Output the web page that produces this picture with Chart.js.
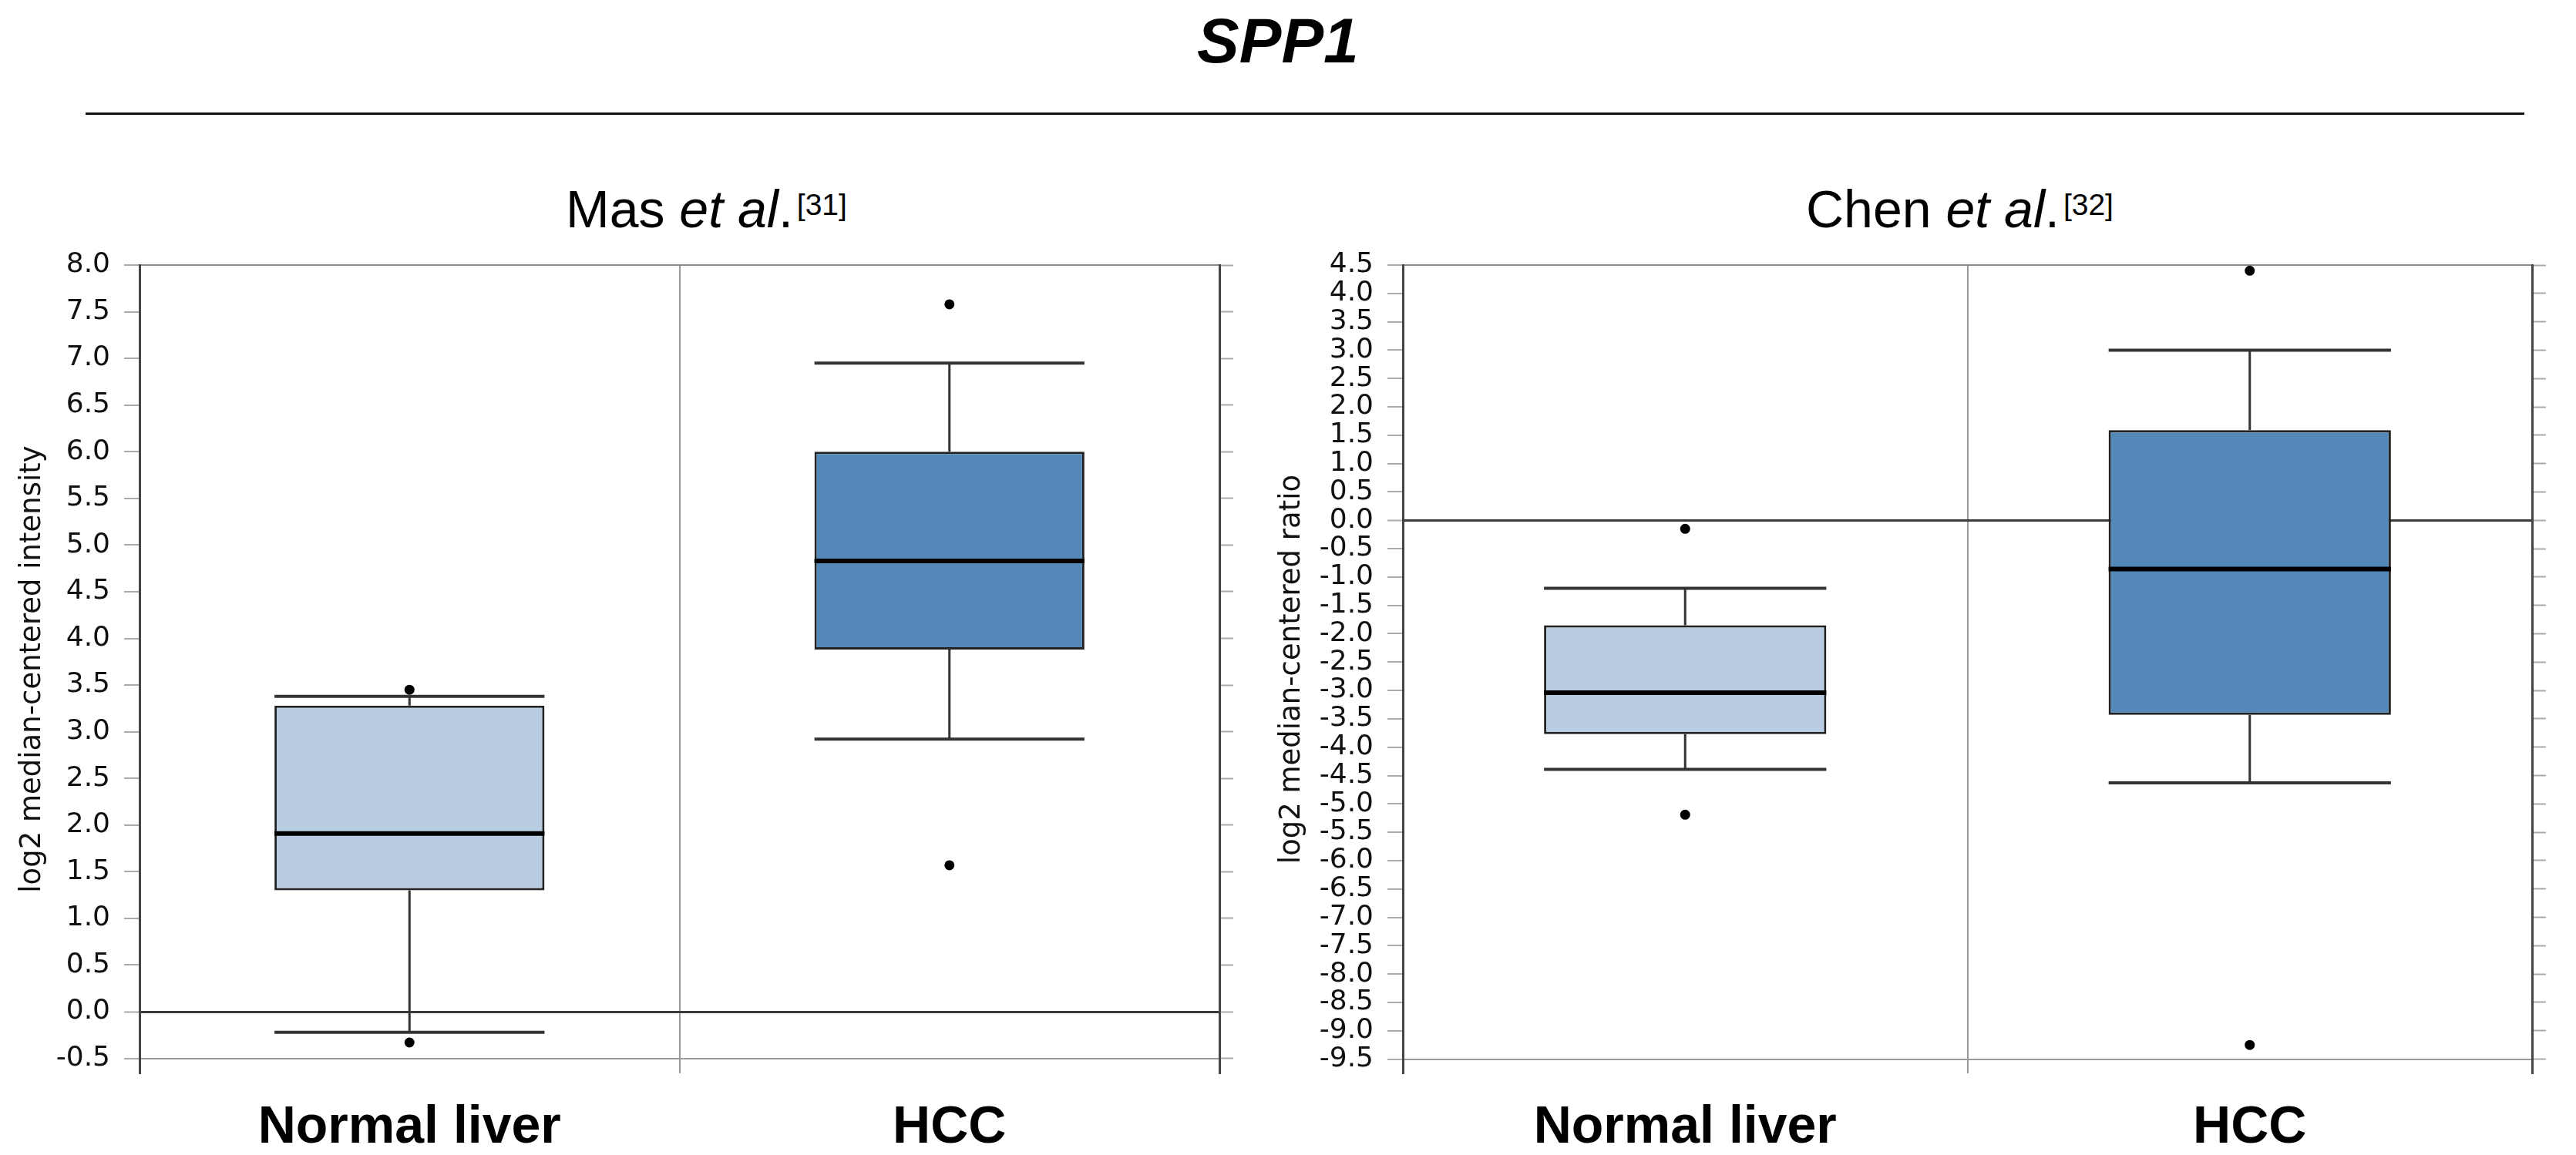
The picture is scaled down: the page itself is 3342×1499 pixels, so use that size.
<!DOCTYPE html>
<html>
<head>
<meta charset="utf-8">
<title>SPP1</title>
<script src="https://cdn.jsdelivr.net/npm/chart.js@4.4.1/dist/chart.umd.min.js"></script>
<style>
  html, body { margin: 0; padding: 0; background: #fff; }
  #page { position: relative; width: 3342px; height: 1499px; overflow: hidden; background: #fff; }
  .gene { position: absolute; left: 1553px; top: 12px; font: italic bold 82px/1 "Liberation Sans", Arial, sans-serif; color: #000; }
  .rule { position: absolute; left: 111px; top: 146px; width: 3164px; height: 3px; background: #111; }
  .sub { position: absolute; top: 237px; font: 68px/1 "Liberation Sans", Arial, sans-serif; color: #000; white-space: nowrap; }
  .sub sup { font-size: 39px; vertical-align: 16px; line-height: 1; margin-left: 5px; }
  .wrap { position: absolute; top: 0; height: 1499px; }
</style>
</head>
<body>
<div id="page">
  <div class="gene">SPP1</div>
  <div class="rule"></div>
  <div class="sub" style="left:734px">Mas <i>et al</i>.<sup>[31]</sup></div>
  <div class="sub" style="left:2343px">Chen <i>et al</i>.<sup>[32]</sup></div>
  <div class="wrap" style="left:0;width:1640px"><canvas id="masChart"></canvas></div>
  <div class="wrap" style="left:1640px;width:1702px"><canvas id="chenChart"></canvas></div>
</div>
<script>
var categories = ['Normal liver', 'HCC'];
var boxColors = ['#b9cde2', '#5488b9'];

// Mas et al. - log2 median-centered intensity
var masTicks = [-0.5, 0.0, 0.5, 1.0, 1.5, 2.0, 2.5, 3.0, 3.5, 4.0, 4.5, 5.0, 5.5, 6.0, 6.5, 7.0, 7.5, 8.0];
var masLow = [-0.22, 2.92];
var masQ1 = [1.30, 3.88];
var masMedian = [1.91, 4.83];
var masQ3 = [3.28, 6.00];
var masHigh = [3.38, 6.95];
var masOutlierCats = ['Normal liver', 'Normal liver', 'HCC', 'HCC'];
var masOutlierVals = [3.45, -0.33, 7.58, 1.57];

// Chen et al. - log2 median-centered ratio
var chenTicks = [-9.5, -9.0, -8.5, -8.0, -7.5, -7.0, -6.5, -6.0, -5.5, -5.0, -4.5, -4.0, -3.5, -3.0, -2.5, -2.0,
                 -1.5, -1.0, -0.5, 0.0, 0.5, 1.0, 1.5, 2.0, 2.5, 3.0, 3.5, 4.0, 4.5];
var chenLow = [-4.39, -4.63];
var chenQ1 = [-3.77, -3.43];
var chenMedian = [-3.04, -0.86];
var chenQ3 = [-1.85, 1.59];
var chenHigh = [-1.20, 3.00];
var chenOutlierCats = ['Normal liver', 'Normal liver', 'HCC', 'HCC'];
var chenOutlierVals = [-0.15, -5.19, 4.40, -9.25];

// whiskers, caps and median line, placed with the chart's own scales
var boxWhiskers = {
  id: 'boxWhiskers',
  afterDatasetsDraw: function(chart, args, opts) {
    var ctx = chart.ctx;
    var y = chart.scales.y;
    var meta = chart.getDatasetMeta(0);
    ctx.save();
    ctx.lineCap = 'butt';
    opts.low.forEach(function(lo, i) {
      var bar = meta.data[i];
      var cx = bar.x, half = bar.width / 2;
      var pLo = y.getPixelForValue(lo), pHi = y.getPixelForValue(opts.high[i]);
      var pQ1 = y.getPixelForValue(opts.q1[i]), pQ3 = y.getPixelForValue(opts.q3[i]);
      var pMed = y.getPixelForValue(opts.median[i]);
      ctx.strokeStyle = '#333';
      ctx.lineWidth = 3;
      ctx.beginPath();
      ctx.moveTo(cx, pHi); ctx.lineTo(cx, pQ3);
      ctx.moveTo(cx, pQ1); ctx.lineTo(cx, pLo);
      ctx.stroke();
      ctx.lineWidth = 4;
      ctx.beginPath();
      ctx.moveTo(cx - half, pHi); ctx.lineTo(cx + half, pHi);
      ctx.moveTo(cx - half, pLo); ctx.lineTo(cx + half, pLo);
      ctx.stroke();
      ctx.strokeStyle = '#000';
      ctx.lineWidth = 6;
      ctx.beginPath();
      ctx.moveTo(cx - half, pMed); ctx.lineTo(cx + half, pMed);
      ctx.stroke();
    });
    ctx.restore();
  }
};

function boxChart(id, d) {
  var topTick = d.ticks[d.ticks.length - 1];
  var bottomTick = d.ticks[0];
  var setTicks = function(scale) {
    scale.ticks = d.ticks.map(function(v) { return { value: v }; });
  };
  return new Chart(document.getElementById(id), {
    type: 'bar',
    data: {
      labels: categories,
      datasets: [{
        data: d.q1.map(function(v, i) { return [v, d.q3[i]]; }),
        backgroundColor: boxColors,
        borderColor: '#222',
        borderWidth: 3,
        borderSkipped: false,
        barPercentage: 0.5,
        categoryPercentage: 1.0
      }, {
        type: 'line',
        data: d.outCats.map(function(c, i) { return { x: c, y: d.outVals[i] }; }),
        showLine: false,
        pointRadius: 6.5,
        pointBackgroundColor: '#000',
        pointBorderWidth: 0
      }]
    },
    options: {
      responsive: true,
      maintainAspectRatio: false,
      animation: false,
      layout: { padding: { top: 344, left: 0, right: 0, bottom: 0 } },
      plugins: {
        legend: { display: false },
        tooltip: { enabled: false },
        boxWhiskers: { low: d.low, q1: d.q1, median: d.median, q3: d.q3, high: d.high }
      },
      scales: {
        x: {
          offset: true,
          border: { display: false },
          grid: {
            offset: true,
            drawTicks: false,
            lineWidth: 2,
            color: function(c) { return c.index === 1 ? '#999' : 'rgba(0,0,0,0)'; }
          },
          ticks: {
            color: '#000',
            padding: 30,
            font: { family: '"Liberation Sans", Arial, sans-serif', size: 68, weight: 'bold' }
          },
          afterFit: function(scale) { scale.height = 106; }
        },
        y: {
          position: 'left',
          min: d.min,
          max: topTick,
          z: 1,
          afterBuildTicks: setTicks,
          afterFit: function(scale) { scale.width = d.leftWidth; },
          border: { display: true, color: '#444', width: 3 },
          grid: {
            drawOnChartArea: true,
            tickLength: 20,
            tickWidth: 2,
            tickColor: '#aaa',
            color: function(c) {
              var v = c.tick.value;
              if (v === 0) return '#3a3a3a';
              if (v === topTick) return '#8a8a8a';
              if (v === bottomTick) return '#9a9a9a';
              return 'rgba(0,0,0,0)';
            },
            lineWidth: function(c) { return c.tick.value === 0 ? 3 : 2; }
          },
          ticks: {
            autoSkip: false,
            padding: 18,
            color: '#111',
            font: { family: '"DejaVu Sans", Verdana, sans-serif', size: 36 },
            callback: function(v) { return Number(v).toFixed(1); }
          },
          title: {
            display: true,
            text: d.yTitle,
            color: '#111',
            padding: { top: d.titlePad, bottom: 0 },
            font: { family: '"DejaVu Sans", Verdana, sans-serif', size: 37 }
          }
        },
        yr: {
          position: 'right',
          min: d.min,
          max: topTick,
          afterBuildTicks: setTicks,
          afterFit: function(scale) { scale.width = d.rightWidth; },
          border: { display: true, color: '#444', width: 3 },
          grid: { drawOnChartArea: false, tickLength: 18, tickWidth: 2, tickColor: '#aaa' },
          ticks: { display: false }
        }
      }
    },
    plugins: [boxWhiskers]
  });
}

boxChart('masChart', {
  ticks: masTicks, min: -0.66,
  low: masLow, q1: masQ1, median: masMedian, q3: masQ3, high: masHigh,
  outCats: masOutlierCats, outVals: masOutlierVals,
  yTitle: 'log2 median-centered intensity', titlePad: 20,
  leftWidth: 181, rightWidth: 58
});

boxChart('chenChart', {
  ticks: chenTicks, min: -9.75,
  low: chenLow, q1: chenQ1, median: chenMedian, q3: chenQ3, high: chenHigh,
  outCats: chenOutlierCats, outVals: chenOutlierVals,
  yTitle: 'log2 median-centered ratio', titlePad: 14,
  leftWidth: 180, rightWidth: 57
});
</script>
</body>
</html>
